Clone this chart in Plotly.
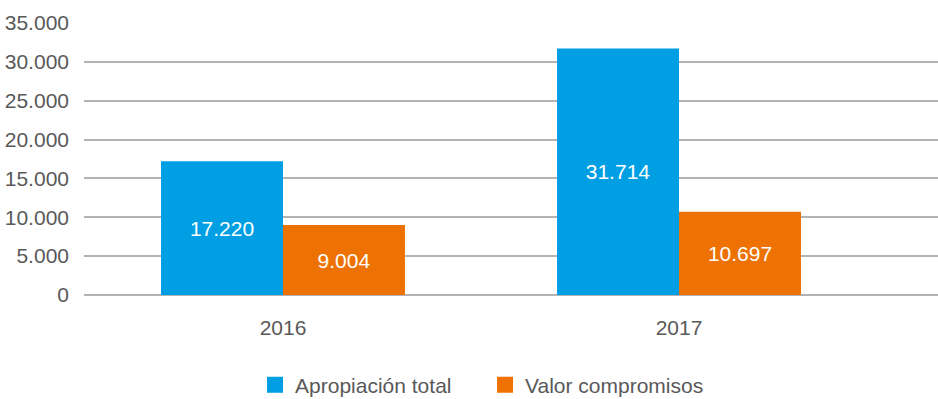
import plotly.graph_objects as go

years = ["2016", "2017"]
apropiacion_total = [17220, 31714]
valor_compromisos = [9004, 10697]
y_ticks = [0, 5000, 10000, 15000, 20000, 25000, 30000, 35000]

BLUE = "#009FE3"
ORANGE = "#EE7203"
GREY_TEXT = "#595959"
FONT = "Liberation Sans Narrow, Arial Narrow, Liberation Sans, Arial, sans-serif"
FS = 21

fig = go.Figure()
for name, vals, color in [
    ("Apropiación total", apropiacion_total, BLUE),
    ("Valor compromisos", valor_compromisos, ORANGE),
]:
    fig.add_trace(go.Bar(
        x=years, y=vals, name=name,
        marker=dict(color=color, line=dict(width=0)),
        texttemplate="%{y:,d}", textposition="inside",
        insidetextanchor="middle",
        textfont=dict(color="white", size=FS, family=FONT),
        showlegend=False,
    ))
    # legend swatch
    fig.add_trace(go.Scatter(
        x=[None], y=[None], mode="markers", name=name,
        marker=dict(symbol="square", size=17, color=color),
    ))

fig.update_layout(
    width=938, height=399,
    margin=dict(l=84, r=0, t=23, b=104, autoexpand=False),
    paper_bgcolor="white", plot_bgcolor="white",
    separators=",.",
    barmode="group", bargap=0.384, bargroupgap=0,
    font=dict(family=FONT, size=FS, color=GREY_TEXT),
    xaxis=dict(
        type="category", range=[-0.5025, 1.654],
        showgrid=False, showline=False, ticks="",
        ticklabelstandoff=18,
        tickfont=dict(size=FS, color=GREY_TEXT),
    ),
    yaxis=dict(
        range=[0, 35000], tickvals=y_ticks, tickformat=",d",
        showgrid=True, gridcolor="#B3B3B3", gridwidth=1.5,
        zeroline=True, zerolinecolor="#B3B3B3", zerolinewidth=1.5,
        showline=False, ticks="", ticklabelstandoff=14,
        tickfont=dict(size=FS, color=GREY_TEXT),
    ),
    legend=dict(
        orientation="h", x=0.4696, xanchor="center",
        yref="container", y=0.035, yanchor="middle",
        font=dict(size=FS, color=GREY_TEXT),
        itemwidth=30, entrywidth=185,
    ),
)

fig.write_html("out.html")
